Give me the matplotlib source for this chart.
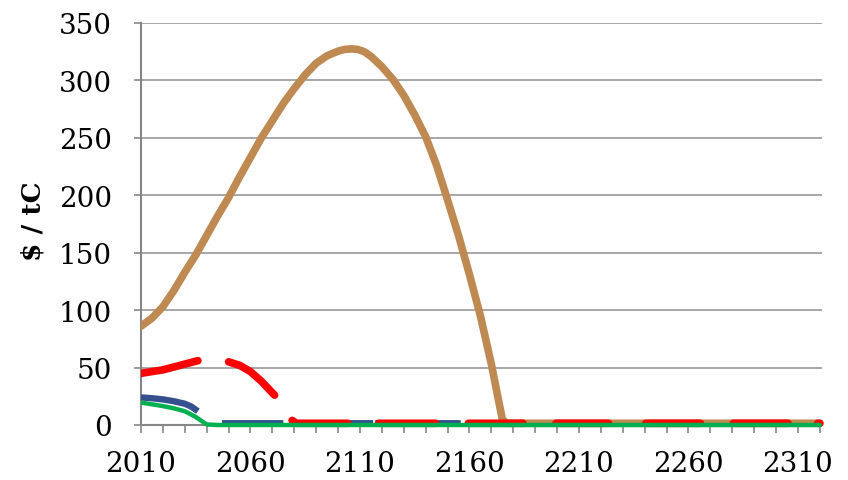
import numpy as np
import matplotlib
matplotlib.use("Agg")
import matplotlib.pyplot as plt
from matplotlib.patches import Rectangle

nan = np.nan

# brown series (rises to a peak near 2105, then falls to zero by ~2176)
brown_years = [2010, 2015, 2020, 2025, 2030, 2035, 2040, 2045, 2050, 2055,
               2060, 2065, 2070, 2075, 2080, 2085, 2090, 2095, 2100, 2103,
               2106, 2109, 2112, 2115, 2120, 2125, 2130, 2135, 2140, 2145,
               2150, 2155, 2160, 2165, 2170, 2175, 2177, 2320]
brown_vals = [86, 93, 103, 117, 133, 148, 165, 182, 198, 216,
              233, 250, 265, 280, 293, 305, 315, 321.5, 325.5, 327,
              327.5, 327, 325, 321, 312, 301, 287, 270, 251, 226,
              196, 165, 131, 95, 53, 5, 1.5, 1.5]

# red series (with gaps)
red_years = [2010, 2015, 2020, 2025, 2030, 2036, 2043,
             2050, 2055, 2060, 2065, 2071, 2075,
             2079, 2081, 2104.5, 2111,
             2118.5, 2144.5, 2152,
             2159.5, 2184.5, 2192,
             2199.5, 2223.5, 2232,
             2240.5, 2265.5, 2273,
             2280.5, 2305.5, 2312,
             2319, 2320]
red_vals = [45, 46.5, 48, 50.5, 53, 56, nan,
            55, 52, 46.5, 38, 26, nan,
            4, 1.5, 1.5, nan,
            1.5, 1.5, nan,
            1.5, 1.5, nan,
            1.5, 1.5, nan,
            1.5, 1.5, nan,
            1.5, 1.5, nan,
            1.5, 1.5]

# blue series
blue_years = [2010, 2015, 2020, 2025, 2030, 2033, 2036, 2041,
              2047, 2075, 2077, 2079, 2116, 2116.5, 2117, 2156]
blue_vals = [24, 23.3, 22.3, 20.7, 18.5, 16, 12, nan,
             1.5, 1.5, nan, 1.5, 1.5, nan, 1.5, 1.5]

# green series
green_years = [2010, 2015, 2020, 2025, 2030, 2035, 2040, 2045, 2320]
green_vals = [19.5, 18, 16.5, 14.5, 12, 7, 0.5, 0, 0]

x_ticks = list(range(2010, 2321, 10))
x_labels = [str(y) if (y - 2010) % 50 == 0 else "" for y in x_ticks]
y_ticks = [0, 50, 100, 150, 200, 250, 300, 350]

plt.rcParams["font.family"] = ["DejaVu Serif"]

fig = plt.figure(figsize=(8.48, 4.81), dpi=100)
ax = fig.add_axes([141 / 848, 1 - 426 / 481, 681 / 848, 402 / 481])

# clip at the left axis, but let lines at zero show fully at the bottom
clip = Rectangle((0, -0.05), 1.02, 1.1, transform=ax.transAxes, visible=False)
ax.add_patch(clip)

lines = []
lines += ax.plot(brown_years, brown_vals, color="#BE8A52", lw=5.5, solid_capstyle="round",
                 solid_joinstyle="round", zorder=8)
lines += ax.plot(blue_years, blue_vals, color="#34508F", lw=4.6, solid_capstyle="butt",
                 zorder=9)
lines += ax.plot(red_years, red_vals, color="#FF0000", lw=5.5, solid_capstyle="round",
                 zorder=10)
lines += ax.plot(green_years, green_vals, color="#00B050", lw=3.2, solid_capstyle="round",
                 zorder=11)
for ln in lines:
    ln.set_clip_path(clip)

ax.set_xlim(2010, 2321)
ax.set_ylim(0, 350)
ax.set_xticks(x_ticks)
ax.set_xticklabels(x_labels)
ax.set_yticks(y_ticks)

ax.grid(axis="y", color="#A0A0A0", lw=1.3)
ax.set_axisbelow(True)
for s in ["top", "right"]:
    ax.spines[s].set_visible(False)
for s in ["left", "bottom"]:
    ax.spines[s].set_color("#868686")
    ax.spines[s].set_linewidth(1.5)
    ax.spines[s].set_zorder(7)

ax.tick_params(axis="x", length=6, width=1.2, color="#868686", pad=12, labelsize=20)
ax.tick_params(axis="y", length=5, width=1.2, color="#868686", pad=16, labelsize=20)

fig.text(33 / 848, 1 - 221 / 481, "$ / tC", rotation=90, ha="center", va="center",
         fontsize=19, fontweight="bold")

fig.savefig("out.png", dpi=100)
